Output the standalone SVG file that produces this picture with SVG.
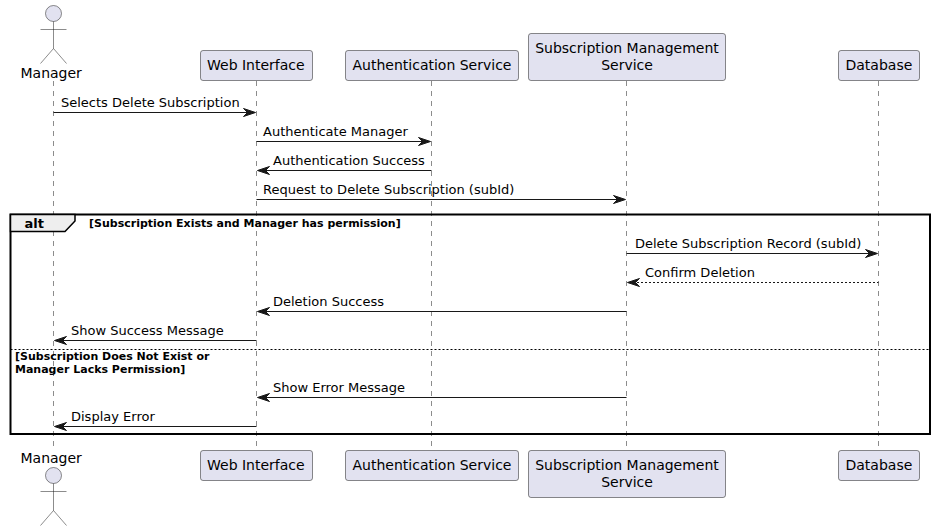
<svg xmlns="http://www.w3.org/2000/svg" width="935" height="531" viewBox="0 0 935 531">
<style>
text{font-family:"DejaVu Sans",sans-serif;fill:#000}
.n{font-size:14px}
.m{font-size:13px}
.g{font-size:11px;font-weight:bold}
.b{fill:#E2E2F0;stroke:#181818;stroke-width:.5}
.a{fill:#E2E2F0;stroke:#181818;stroke-width:.5}
.l{stroke:#181818;stroke-width:.5;stroke-dasharray:5 5;fill:none}
.s{stroke:#181818;stroke-width:.5;fill:none}
.c{stroke:#181818;stroke-width:1;fill:none}
.d{stroke:#181818;stroke-width:1;fill:none;stroke-dasharray:2 2}
.h{fill:#181818;stroke:#181818;stroke-width:1}
.f{fill:none;stroke:#000;stroke-width:2}
</style>
<rect width="935" height="531" fill="#fff"/>
<g id="lifelines">
<path class="l" d="M53.500 81V450M256.500 81V450M431.500 81V450M626.500 81V450M878.500 81V450"/>
</g>
<g id="frame">
<rect class="f" x="10.500" y="214.500" width="919.500" height="219.500"/>
<path d="M10.500 214.500H75V221L65 231.500H10.500Z" fill="#EEE" stroke="#000" stroke-width="1.500"/>
<text x="24.500" y="228" style="font-size:13px;font-weight:bold">alt</text>
<text class="g" x="89" y="227">[Subscription Exists and Manager has permission]</text>
<path d="M10.500 349.500H930" stroke="#000" stroke-width="1" stroke-dasharray="2 2" fill="none"/>
<text class="g" x="15" y="360">[Subscription Does Not Exist or</text>
<text class="g" x="15" y="373">Manager Lacks Permission]</text>
</g>
<g id="connectors">
<path class="c" d="M53.500 112.500H254"/><path class="h" d="M243.500 108.500L255.500 112.500L243.500 116.500L247.500 112.500Z"/>
<path class="c" d="M256.500 141.500H429"/><path class="h" d="M418.500 137.500L430.500 141.500L418.500 145.500L422.500 141.500Z"/>
<path class="c" d="M259 170.500H431.500"/><path class="h" d="M269.500 166.500L257.500 170.500L269.500 174.500L265.500 170.500Z"/>
<path class="c" d="M256.500 199.500H624"/><path class="h" d="M613.500 195.500L625.500 199.500L613.500 203.500L617.500 199.500Z"/>
<path class="c" d="M626.500 253.500H876"/><path class="h" d="M865.500 249.500L877.500 253.500L865.500 257.500L869.500 253.500Z"/>
<path class="d" d="M629 282.500H878.500"/><path class="h" d="M639.500 278.500L627.500 282.500L639.500 286.500L635.500 282.500Z"/>
<path class="c" d="M259 311.500H626.500"/><path class="h" d="M269.500 307.500L257.500 311.500L269.500 315.500L265.500 311.500Z"/>
<path class="c" d="M56 340.500H256.500"/><path class="h" d="M66.500 336.500L54.500 340.500L66.500 344.500L62.500 340.500Z"/>
<path class="c" d="M259 397.500H626.500"/><path class="h" d="M269.500 393.500L257.500 397.500L269.500 401.500L265.500 397.500Z"/>
<path class="c" d="M56 426.500H256.500"/><path class="h" d="M66.500 422.500L54.500 426.500L66.500 430.500L62.500 426.500Z"/>
<text class="m" x="61" y="107">Selects Delete Subscription</text>
<text class="m" x="263" y="136">Authenticate Manager</text>
<text class="m" x="273" y="165">Authentication Success</text>
<text class="m" x="263" y="194">Request to Delete Subscription (subId)</text>
<text class="m" x="635" y="248">Delete Subscription Record (subId)</text>
<text class="m" x="645" y="277">Confirm Deletion</text>
<text class="m" x="273" y="306">Deletion Success</text>
<text class="m" x="71" y="335">Show Success Message</text>
<text class="m" x="273" y="392">Show Error Message</text>
<text class="m" x="71" y="421">Display Error</text>
</g>
<g id="manager">
<circle class="a" cx="53.500" cy="13.500" r="8"/>
<path class="s" d="M53.500 21.500V48.500M40.500 29.500H66.500M53.500 48.500L40.500 63.500M53.500 48.500L66.500 63.500"/>
<text class="n" x="20.500" y="78">Manager</text>
<text class="n" x="20.500" y="463">Manager</text>
<circle class="a" cx="53.500" cy="475.500" r="8"/>
<path class="s" d="M53.500 483.500V510.500M40.500 491.500H66.500M53.500 510.500L40.500 525.500M53.500 510.500L66.500 525.500"/>
</g>
<g id="web">
<rect class="b" x="200.500" y="50.500" width="112" height="30" rx="2.500"/><text class="n" x="207" y="70">Web Interface</text>
<rect class="b" x="200.500" y="450.500" width="112" height="30" rx="2.500"/><text class="n" x="207" y="470">Web Interface</text>
</g>
<g id="auth">
<rect class="b" x="345.500" y="50.500" width="173" height="30" rx="2.500"/><text class="n" x="352.500" y="70">Authentication Service</text>
<rect class="b" x="345.500" y="450.500" width="173" height="30" rx="2.500"/><text class="n" x="352.500" y="470">Authentication Service</text>
</g>
<g id="subscription">
<rect class="b" x="528.500" y="33.500" width="197" height="47" rx="2.500"/><text class="n" text-anchor="middle" x="627" y="53">Subscription Management</text><text class="n" text-anchor="middle" x="627" y="70">Service</text>
<rect class="b" x="528.500" y="450.500" width="197" height="47" rx="2.500"/><text class="n" text-anchor="middle" x="627" y="470">Subscription Management</text><text class="n" text-anchor="middle" x="627" y="487">Service</text>
</g>
<g id="database">
<rect class="b" x="838.500" y="50.500" width="81" height="30" rx="2.500"/><text class="n" x="845.500" y="70">Database</text>
<rect class="b" x="838.500" y="450.500" width="81" height="30" rx="2.500"/><text class="n" x="845.500" y="470">Database</text>
</g>
</svg>
